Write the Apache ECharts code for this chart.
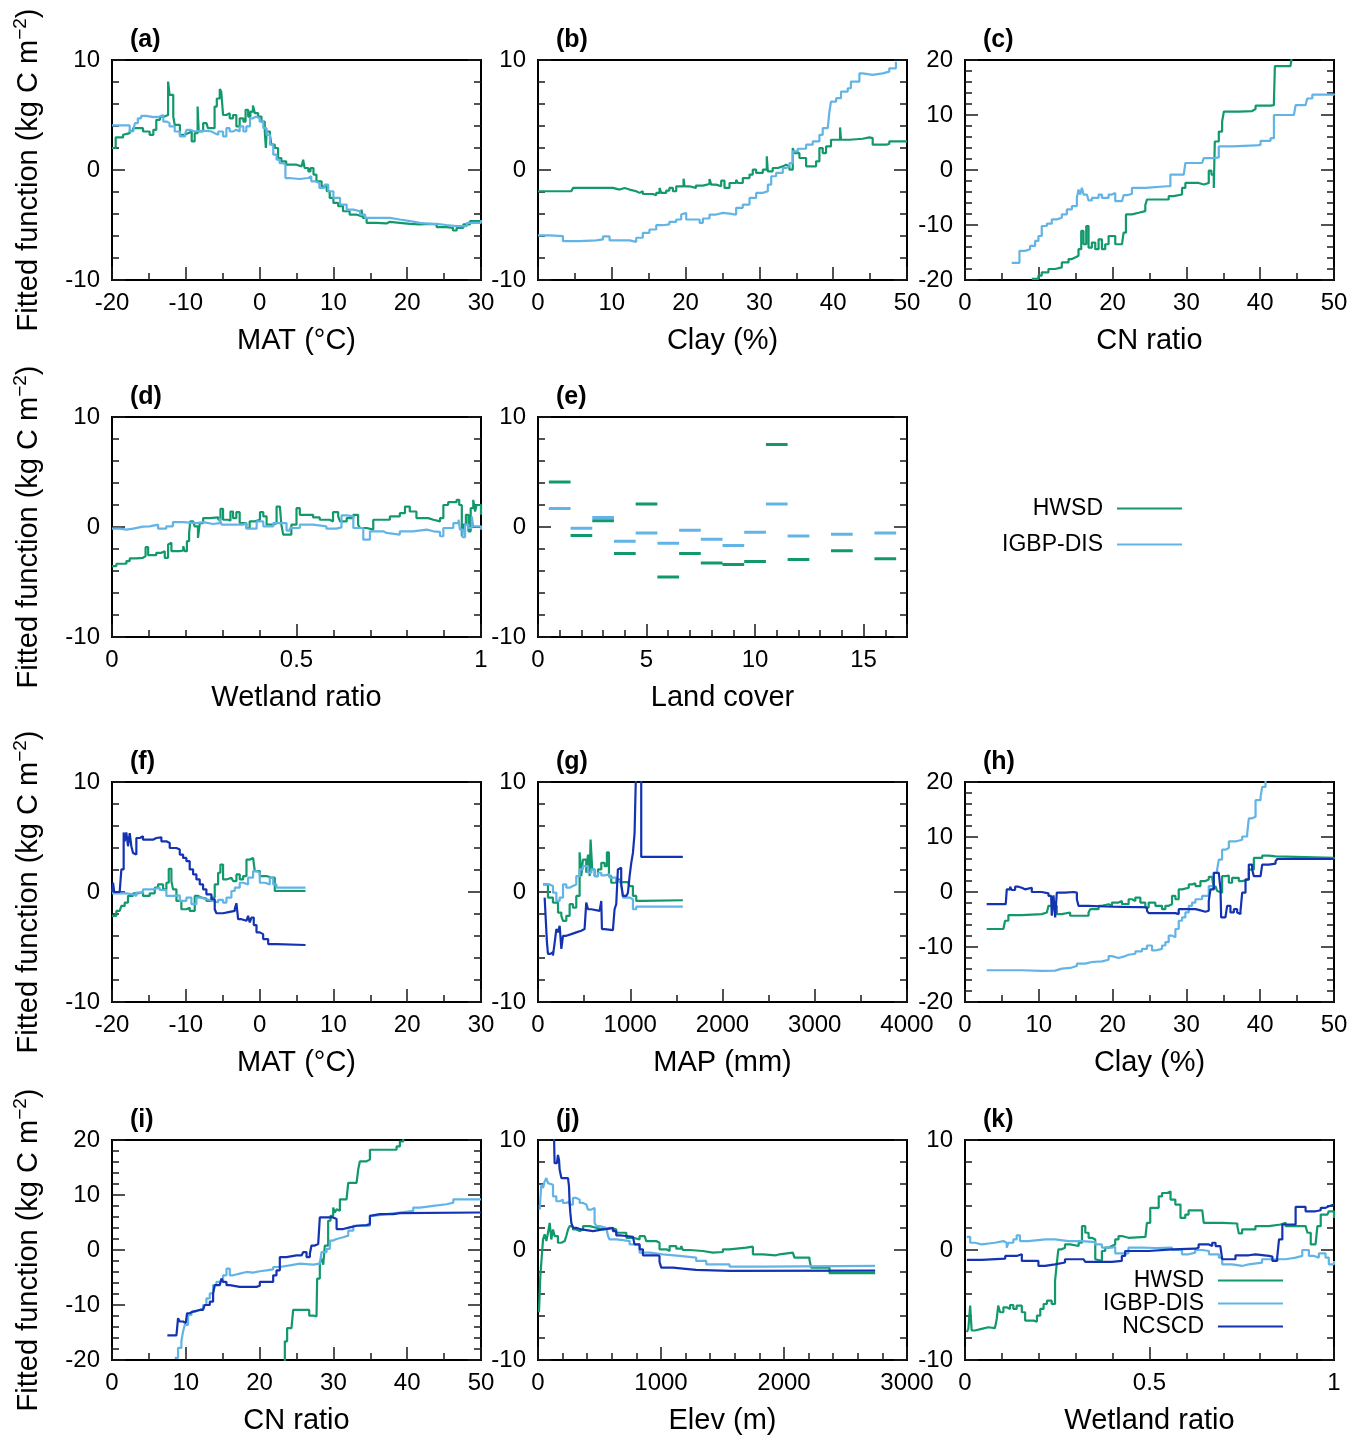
<!DOCTYPE html>
<html>
<head>
<meta charset="utf-8">
<script src="https://cdn.jsdelivr.net/npm/echarts@6/dist/echarts.min.js"></script>
<style>
  html, body { margin: 0; background: #fff; }
  #chart { width: 1369px; height: 1439px; }
</style>
</head>
<body>
<div id="chart"></div>
<script>
// (a) MAT, two soil maps
const aHwsd = [[-20,2.0],[-19.5,2.0],[-19.5,2.96],[-18.5,3.2],[-18.3,3.35],[-17.6,3.56],[-17.15,3.8],[-16.5,3.8],[-15.8,3.5],[-14.9,3.2],[-14.4,3.65],[-14.0,4.56],[-13.5,4.86],[-12.9,5.0],[-12.4,8.04],[-12.2,6.83],[-11.7,4.86],[-11.5,4.1],[-10.8,3.2],[-10.1,3.35],[-9.7,3.5],[-9.2,2.6],[-8.8,3.35],[-8.4,5.77],[-8.25,3.5],[-7.65,4.26],[-7.2,4.4],[-7.0,3.8],[-6.5,3.8],[-6.1,5.77],[-5.8,6.5],[-5.4,7.37],[-5.2,7.13],[-4.95,5.0],[-4.5,5.17],[-4.05,4.7],[-3.6,5.0],[-3.15,3.96],[-2.7,4.7],[-2.2,4.4],[-1.9,5.47],[-1.55,4.86],[-1.25,5.3],[-0.9,5.86],[-0.65,5.17],[-0.2,4.86],[0.25,4.4],[0.7,3.5],[0.85,2.0],[0.95,3.5],[1.4,3.2],[1.6,2.3],[2.06,2.0],[2.5,1.09],[2.95,0.79],[3.6,0.48],[4.3,0.48],[5.0,0.33],[5.7,0.33],[5.9,0.94],[6.1,0.18],[6.6,-0.12],[6.9,0.18],[7.3,-0.42],[7.7,-1.03],[8.4,-1.48],[9.1,-1.93],[9.5,-2.54],[10.0,-2.99],[10.65,-3.29],[11.3,-3.75],[12.2,-4.05],[13.1,-4.2],[13.8,-3.6],[14.0,-4.35],[14.5,-4.8],[15.85,-4.86],[17.2,-4.71],[17.65,-4.8],[19.0,-4.9],[20.4,-4.95],[21.7,-4.9],[23.1,-4.95],[24.0,-5.2],[25.3,-5.26],[26.2,-5.5],[26.7,-5.26],[27.6,-4.95],[28.5,-4.65],[30,-4.56]]
const aIgbp = [[-20,4.05],[-17.6,4.05],[-17.6,3.5],[-17.15,3.65],[-16.9,4.26],[-16.5,4.7],[-16.05,4.92],[-15.35,4.8],[-14.4,4.86],[-13.5,5.0],[-13.05,4.4],[-12.6,4.26],[-12.2,3.96],[-11.5,3.5],[-10.8,3.05],[-10.1,3.26],[-9.9,3.65],[-9.4,3.5],[-8.8,3.56],[-8.1,3.56],[-7.2,3.5],[-6.5,3.35],[-6.1,3.2],[-5.6,3.5],[-4.95,3.05],[-4.5,3.8],[-4.05,3.5],[-3.6,3.65],[-3.15,3.5],[-2.7,3.96],[-2.2,3.5],[-1.8,3.96],[-1.3,4.7],[-0.9,4.86],[-0.45,4.7],[0,4.4],[0.5,3.8],[0.95,3.2],[1.4,2.3],[1.85,1.39],[2.3,0.94],[2.7,0.63],[3.2,0.48],[3.5,-0.73],[4.0,-0.82],[5.4,-0.73],[6.6,-0.57],[7.0,-1.03],[7.5,-1.18],[8.1,-1.63],[8.8,-1.33],[9.3,-1.93],[10.0,-2.54],[10.9,-3.14],[11.8,-3.6],[12.7,-3.75],[13.6,-4.05],[14.3,-4.35],[15.85,-4.35],[17.65,-4.5],[19.0,-4.65],[20.4,-4.8],[21.7,-4.9],[23.1,-4.9],[24.0,-5.0],[25.3,-5.1],[26.7,-5.1],[28.1,-4.8],[30,-4.56]]

// (b) clay
const bHwsd = [[0,-1.93],[4.51,-1.93],[4.74,-1.63],[9.7,-1.63],[10.15,-1.78],[11.06,-1.63],[11.73,-1.48],[11.96,-1.78],[12.41,-1.93],[13.31,-2.08],[13.76,-1.93],[14.2,-2.18],[15.57,-2.3],[16.02,-2.08],[16.47,-1.63],[16.7,-2.08],[17.37,-1.87],[17.8,-1.63],[18.28,-1.93],[18.73,-1.48],[19.4,-1.48],[19.72,-0.79],[19.86,-1.48],[20.5,-1.63],[21.4,-1.42],[22.34,-1.27],[23.24,-0.82],[23.47,-1.33],[24.14,-1.48],[24.82,-0.97],[25.27,-1.63],[25.95,-1.18],[26.85,-0.88],[27.08,-1.18],[27.75,-0.73],[28.66,-0.42],[29.1,0.03],[29.56,-0.27],[30.46,0.03],[31.0,1.24],[31.14,-0.12],[31.8,0.18],[32.5,0.33],[33.17,0.48],[33.62,0.33],[34.07,0.03],[34.52,1.99],[34.75,1.54],[35.42,1.09],[36.33,0.33],[37.68,0.79],[38.13,1.99],[38.58,1.54],[39.03,2.14],[39.7,2.75],[40.6,2.75],[40.93,3.87],[41.06,2.75],[42.2,2.84],[44.0,2.96],[44.9,2.9],[45.35,2.3],[47.16,2.36],[47.6,2.6],[50,2.6]]
const bIgbp = [[0,-5.95],[1.58,-6.01],[3.38,-6.47],[5.64,-6.4],[7.9,-6.31],[8.8,-6.04],[9.7,-6.4],[11.5,-6.4],[12.41,-6.53],[13.31,-6.16],[14.2,-5.71],[15.1,-5.41],[16.02,-5.02],[16.9,-4.95],[17.8,-4.71],[18.73,-4.5],[19.4,-4.05],[19.63,-3.9],[20.08,-4.5],[20.98,-4.5],[21.9,-4.8],[22.34,-4.41],[23.24,-4.05],[24.14,-3.9],[25.05,-3.96],[25.95,-4.05],[26.85,-3.44],[27.75,-3.14],[28.66,-2.54],[29.56,-2.08],[30.46,-1.93],[31.14,-1.33],[31.6,-0.57],[32.27,-0.27],[33.17,0.18],[33.62,0.33],[34.07,0.63],[34.52,1.69],[35.2,1.93],[36.33,2.3],[37.23,2.6],[38.13,3.2],[38.58,3.8],[39.26,3.96],[39.49,5.32],[39.7,6.22],[40.4,6.53],[41.06,7.13],[41.97,7.43],[42.4,8.04],[43.55,8.79],[44.0,8.64],[45.35,8.79],[46.7,8.94],[47.6,9.24],[48.5,9.85]]

// (c) CN ratio
const cHwsd = [[9.05,-19.8],[9.95,-19.2],[10.4,-18.6],[11.31,-18.0],[12.22,-17.7],[13.12,-16.8],[14.03,-16.2],[14.48,-15.9],[14.93,-15.6],[15.38,-14.4],[15.75,-11.08],[16.06,-13.5],[16.43,-10.18],[16.74,-14.1],[17.19,-13.2],[17.65,-14.4],[18.1,-12.6],[18.55,-14.4],[19.0,-13.5],[19.46,-12.0],[19.9,-12.0],[20.36,-13.5],[21.27,-13.5],[21.49,-11.4],[21.81,-8.07],[22.62,-7.77],[23.53,-7.47],[24.43,-6.39],[24.66,-5.36],[27.6,-4.76],[28.28,-4.46],[29.41,-3.25],[29.86,-2.35],[31.67,-2.65],[32.35,-2.35],[33.03,-0.12],[33.39,-0.84],[33.71,-3.25],[33.85,5.18],[34.39,6.99],[34.84,8.8],[35.07,10.6],[37.1,10.72],[38.9,11.08],[39.37,11.69],[41.4,11.8],[41.86,12.4],[41.99,18.9],[44.1,18.9],[44.34,21]]
const cIgbp = [[6.33,-16.87],[7.38,-16.87],[7.38,-14.7],[8.14,-14.4],[8.82,-13.8],[9.5,-12.9],[9.95,-12.0],[10.4,-10.18],[11.09,-9.76],[11.76,-8.98],[12.44,-8.67],[13.12,-8.07],[13.8,-7.17],[14.48,-6.57],[15.16,-5.06],[15.38,-3.55],[15.61,-4.46],[15.84,-3.25],[16.06,-4.46],[16.52,-4.76],[16.74,-5.54],[17.19,-5.06],[18.1,-4.46],[18.55,-5.06],[19.46,-4.46],[19.9,-4.16],[20.36,-5.66],[21.27,-5.96],[21.49,-4.58],[21.95,-4.34],[22.62,-3.25],[24.43,-2.95],[27.38,-2.95],[27.83,-0.84],[29.64,-0.54],[29.86,1.27],[32.13,1.57],[32.35,2.17],[33.71,2.29],[34.39,4.28],[36.2,4.46],[39.37,4.58],[40.05,5.3],[41.4,5.78],[41.86,10.0],[44.57,10.0],[44.8,11.8],[46.15,11.8],[46.38,13.0],[47.06,13.7],[50,13.9]]

// (d) wetland ratio
const dHwsd = [[0,-3.55],[0.012,-3.34],[0.039,-3.1],[0.048,-2.86],[0.066,-2.8],[0.084,-2.65],[0.091,-1.83],[0.098,-2.56],[0.12,-2.35],[0.134,-2.2],[0.143,-2.8],[0.152,-1.59],[0.156,-1.44],[0.161,-2.2],[0.184,-2.14],[0.193,-1.74],[0.197,-2.2],[0.203,-1.29],[0.209,-0.54],[0.212,0.51],[0.22,0.36],[0.224,0.06],[0.233,-0.99],[0.238,0.36],[0.247,0.81],[0.265,0.87],[0.288,0.66],[0.294,1.65],[0.301,0.66],[0.315,0.57],[0.321,1.41],[0.328,0.81],[0.337,1.35],[0.346,0.36],[0.364,-0.09],[0.373,0.51],[0.387,0.66],[0.401,1.35],[0.41,0.96],[0.419,0.21],[0.437,0.36],[0.446,1.86],[0.455,1.71],[0.459,0.21],[0.464,-0.69],[0.477,-0.69],[0.486,0.21],[0.5,1.71],[0.509,1.11],[0.545,0.87],[0.563,0.66],[0.59,0.51],[0.599,1.35],[0.613,0.96],[0.618,0.51],[0.636,0.81],[0.654,1.11],[0.667,0.21],[0.672,-0.09],[0.69,-0.24],[0.708,0.66],[0.726,0.66],[0.753,0.96],[0.78,1.26],[0.794,1.86],[0.807,1.41],[0.825,0.81],[0.857,0.66],[0.871,0.51],[0.889,0.81],[0.898,2.0],[0.911,2.26],[0.934,2.47],[0.941,2.0],[0.948,-0.84],[0.952,0.21],[0.959,1.11],[0.966,-0.39],[0.972,1.71],[0.979,2.47],[0.984,1.41],[0.988,2.0],[1,1.11]]
const dIgbp = [[0,-0.15],[0.021,-0.24],[0.039,-0.15],[0.057,0.03],[0.084,0.06],[0.102,0.21],[0.125,-0.15],[0.147,0.06],[0.165,0.45],[0.193,0.36],[0.229,0.45],[0.247,0.27],[0.274,0.36],[0.292,0.81],[0.297,0.21],[0.328,0.21],[0.355,0.36],[0.364,-0.15],[0.392,0.51],[0.41,0.06],[0.437,0.36],[0.455,0.36],[0.473,-0.33],[0.482,-0.09],[0.509,0.21],[0.545,0.06],[0.581,-0.15],[0.608,-0.03],[0.622,1.05],[0.636,0.96],[0.654,-0.09],[0.681,-1.14],[0.699,-0.39],[0.735,-0.54],[0.744,-0.69],[0.78,-0.39],[0.816,-0.24],[0.853,-0.39],[0.871,-0.45],[0.889,-0.84],[0.898,-0.09],[0.925,0.36],[0.939,0.66],[0.943,-0.24],[0.95,-0.93],[0.957,0.21],[0.966,-0.09],[0.975,0.96],[0.979,0.06],[1,-0.24]]

// (e) land cover classes
const lcClass = [1, 2, 3, 4, 5, 6, 7, 8, 9, 10, 11, 12, 14, 16]
const lcHwsd = [4.1, -0.78, 0.57, -2.4, 2.1, -4.55, -2.4, -3.28, -3.4, -3.13, 7.5, -2.95, -2.17, -2.89]
const lcIgbp = [1.69, -0.12, 0.87, -1.3, -0.54, -1.48, -0.3, -1.11, -1.69, -0.48, 2.1, -0.81, -0.66, -0.54]

// (f) MAT, three soil maps
const fHwsd = [[-20,-2.17],[-19.41,-1.72],[-18.96,-1.57],[-18.73,-1.27],[-18.28,-0.96],[-17.83,-0.36],[-17.15,-0.12],[-16.47,0],[-15.8,-0.36],[-14.89,-0.12],[-14.21,0.39],[-13.76,0.69],[-13.08,0.24],[-12.63,0.84],[-12.31,2.11],[-11.95,0.99],[-11.73,0.24],[-11.27,-0.81],[-10.6,-1.57],[-9.92,-1.42],[-9.47,-1.72],[-8.79,-0.36],[-8.34,-0.51],[-7.88,-0.6],[-7.21,-0.81],[-6.53,-0.51],[-6.08,0.69],[-5.62,1.75],[-5.31,2.5],[-4.95,1.14],[-4.49,1.3],[-3.82,1.3],[-3.59,0.99],[-3.14,1.6],[-2.69,1.14],[-2.23,1.45],[-1.78,2.95],[-1.33,3.1],[-0.88,3.1],[-0.65,1.9],[0.03,1.45],[0.93,1.3],[1.61,1.3],[2.06,0.09],[6.22,0.09]]
const fIgbp = [[-20,-0.12],[-18.06,-0.21],[-17.15,-0.36],[-16.7,-0.06],[-15.8,0.24],[-14.44,0.39],[-13.54,0.18],[-12.63,-0.36],[-11.73,-0.3],[-10.82,-0.81],[-9.92,-0.51],[-9.24,-1.11],[-8.56,-0.51],[-7.88,-0.66],[-7.21,-0.81],[-6.3,-0.96],[-5.62,-0.72],[-4.95,-0.96],[-4.49,-0.51],[-3.82,0.09],[-3.36,0.39],[-2.69,0.84],[-2.23,0.69],[-1.56,1.3],[-0.88,1.9],[-0.42,1.75],[0.03,0.84],[0.71,0.69],[1.38,1.3],[1.84,0.69],[2.29,0.39],[6.22,0.39]]
const fNcscd = [[-20,0],[-19.86,0.84],[-19.7,0],[-18.96,0.09],[-18.73,2.05],[-18.42,5.42],[-18.28,4.61],[-18.06,5.42],[-17.83,4.16],[-17.6,5.36],[-17.38,4.16],[-17.15,3.55],[-16.93,3.4],[-16.7,4.91],[-16.25,5.06],[-15.8,4.76],[-14.89,4.76],[-14.44,4.91],[-13.99,4.97],[-13.31,4.61],[-12.63,4.46],[-12.18,4.0],[-11.27,3.86],[-10.82,3.4],[-10.37,3.1],[-9.92,2.8],[-9.47,2.05],[-9.01,1.6],[-8.56,1.14],[-8.11,0.69],[-7.66,0.24],[-7.21,-0.21],[-6.53,-0.66],[-6.08,-1.57],[-5.85,-1.93],[-4.95,-1.81],[-4.04,-1.72],[-3.36,-1.51],[-3.14,-1.02],[-2.91,-2.47],[-2.46,-2.62],[-1.78,-2.62],[-1.56,-2.17],[-1.33,-2.77],[-1.1,-2.32],[-0.79,-3.01],[-0.42,-3.67],[0.03,-3.83],[0.48,-4.28],[1.16,-4.73],[2.29,-4.82],[6.22,-4.82]]

// (g) MAP
const gHwsd = [[54,0.69],[108,-0.51],[162,-0.96],[217,-1.87],[253,-2.17],[271,-2.62],[307,-2.17],[343,-1.11],[379,-1.42],[415,-0.36],[451,3.61],[469,1.45],[487,2.95],[523,1.75],[542,3.4],[560,1.45],[570,4.76],[588,2.05],[614,1.45],[650,2.05],[686,2.65],[722,2.35],[747,3.61],[769,1.45],[794,0.84],[848,1.14],[884,0.9],[975,0.9],[993,0.54],[1029,-0.36],[1065,-0.81],[1137,-0.75],[1570,-0.75]]
const gIgbp = [[54,0.69],[126,0.54],[162,-0.06],[199,-0.81],[235,-0.51],[271,0.69],[307,0.39],[343,0.54],[379,0.69],[415,1.45],[451,2.05],[487,2.35],[542,1.75],[578,2.05],[614,1.45],[650,1.75],[686,1.51],[722,1.6],[776,1.3],[848,0.99],[902,0.69],[921,-0.51],[993,-0.66],[1029,-1.57],[1065,-1.33],[1570,-1.33]]
const gNcscd = [[72,-0.51],[90,-0.51],[97,-4.58],[108,-5.63],[134,-5.48],[162,-5.78],[181,-4.58],[199,-3.37],[217,-3.67],[235,-3.07],[253,-5.18],[271,-3.98],[307,-3.83],[361,-3.67],[415,-3.52],[469,-3.37],[505,-3.22],[523,-0.96],[542,-1.57],[578,-1.72],[668,-1.81],[686,-0.81],[693,-3.37],[722,-3.46],[812,-3.31],[830,-1.57],[848,-1.11],[866,2.05],[884,2.2],[902,0.69],[921,-0.36],[957,-0.51],[975,-0.06],[993,1.45],[1011,2.65],[1029,3.55],[1047,5.36],[1065,12],[1119,3.19],[1570,3.19]]

// (h) clay
const hHwsd = [[2.94,-6.73],[5.2,-6.73],[5.43,-5.23],[5.88,-4.2],[7.69,-4.02],[10.41,-3.72],[11.09,-3.6],[11.31,-2.52],[12.44,-4.02],[13.12,-3.72],[14.25,-4.32],[16.74,-3.72],[16.97,-3.12],[18.1,-2.52],[18.55,-2.22],[19.46,-2.52],[19.91,-1.92],[20.81,-1.62],[21.27,-2.22],[22.17,-1.32],[22.62,-1.62],[23.08,-1.02],[23.76,-1.92],[24.43,-2.82],[24.89,-1.92],[25.79,-2.52],[26.7,-3.12],[27.15,-2.52],[27.6,-2.22],[28.05,-0.72],[28.51,-1.32],[28.96,0.48],[29.41,0.78],[30.32,1.38],[30.77,1.56],[31.22,1.08],[31.9,1.98],[32.58,2.28],[33.03,2.76],[33.48,2.88],[33.71,0.48],[33.94,1.08],[34.16,0.18],[34.39,-0.12],[34.84,2.88],[35.29,3.0],[35.75,1.68],[36.2,2.58],[37.1,1.98],[37.56,2.28],[38.46,4.08],[39.14,6.19],[40.27,6.61],[41.18,6.49],[42.08,6.19],[50,6.0]]
const hIgbp = [[2.94,-14.23],[7.69,-14.35],[10.41,-14.29],[12.22,-13.93],[13.12,-13.81],[14.25,-13.45],[15.16,-13.03],[16.29,-12.73],[17.19,-12.61],[18.55,-12.31],[19.46,-11.65],[19.91,-12.01],[20.81,-11.65],[21.72,-11.41],[22.17,-11.23],[23.08,-10.81],[23.98,-10.33],[24.66,-9.73],[25.34,-10.63],[25.79,-10.33],[26.7,-9.73],[27.15,-9.13],[27.6,-7.93],[28.05,-8.23],[28.51,-6.73],[28.96,-5.23],[29.41,-4.62],[29.86,-3.72],[30.32,-2.52],[30.77,-1.92],[31.22,-1.32],[32.13,-0.72],[33.03,1.08],[33.71,3.48],[34.16,4.08],[34.39,5.89],[34.84,7.69],[35.29,7.99],[35.75,9.19],[36.65,9.49],[37.56,10.09],[38.24,10.69],[38.46,13.39],[38.91,13.69],[39.37,16.7],[40.05,17.3],[40.27,19.1],[40.72,21]]
const hNcscd = [[2.94,-2.22],[5.52,-2.22],[5.66,0.48],[6.11,0.96],[6.33,0.36],[6.79,0.96],[7.24,0.78],[7.69,0.48],[8.14,0.78],[9.05,0],[10.41,-0.24],[11.31,-0.72],[11.67,-0.84],[11.76,-4.32],[11.99,-0.6],[12.22,-4.62],[12.44,-0.12],[13.57,0],[14.71,-0.12],[15.16,-1.32],[15.38,-2.52],[16.74,-2.64],[19.0,-2.7],[21.27,-2.76],[23.98,-2.82],[24.66,-3.42],[24.89,-3.84],[27.6,-3.84],[28.51,-4.02],[28.96,-3.12],[30.32,-3.12],[31.22,-3.24],[31.67,-3.6],[32.58,-3.42],[33.03,-1.62],[33.26,0.48],[33.71,3.48],[34.39,3.48],[34.62,0.48],[34.71,-4.62],[35.29,-4.32],[35.52,-2.52],[35.97,-3.72],[36.43,-3.12],[36.88,-3.72],[37.1,-4.02],[37.33,-3.42],[37.56,-0.12],[38.01,2.28],[38.46,4.98],[38.91,4.08],[39.14,2.88],[40.05,3.0],[40.27,4.98],[41.18,5.17],[42.08,5.59],[42.31,6.0],[50,6.0]]

// (i) CN ratio
const iHwsd = [[23.1,-21],[23.42,-16.6],[23.73,-14.2],[24.32,-14.2],[24.55,-10.9],[26.36,-10.9],[26.72,-11.92],[27.26,-12.1],[27.71,-12.4],[27.8,-5.2],[28.16,-2.19],[28.39,-1.59],[28.62,-2.67],[28.84,0.81],[29.29,5.32],[29.61,6.22],[29.97,7.72],[30.2,6.82],[30.43,7.42],[30.65,7.12],[30.88,9.22],[31.78,9.22],[32.01,12.22],[33.14,12.52],[33.36,14.62],[33.59,16.13],[34.49,16.43],[34.95,18.23],[38.11,18.23],[38.56,18.83],[39.01,19.73],[39.47,21]]
const iIgbp = [[8.5,-19.6],[8.95,-17.8],[9.4,-16.6],[9.63,-14.8],[9.86,-13.6],[10.31,-11.8],[10.76,-11.2],[11.21,-10.9],[11.89,-10.6],[12.34,-10.0],[12.79,-8.8],[13.25,-7.9],[13.7,-6.4],[14.15,-5.8],[14.6,-5.5],[15.05,-4.6],[15.51,-3.39],[15.96,-4.6],[16.41,-4.29],[17.31,-3.99],[18.22,-4.11],[19.12,-3.87],[20.03,-3.7],[20.93,-3.51],[21.84,-3.09],[22.74,-2.79],[24.1,-2.49],[25.45,-2.67],[27.26,-2.49],[28.16,-2.31],[28.39,-0.39],[29.07,0.21],[29.52,1.71],[29.97,2.01],[30.43,2.31],[31.33,2.61],[32.01,3.51],[32.69,4.41],[34.04,4.41],[34.95,6.22],[35.4,6.52],[37.21,6.82],[39.01,7.12],[40.82,7.72],[41.73,8.02],[43.53,8.32],[45.34,8.62],[46.25,9.22],[50,9.22]]
const iNcscd = [[7.5,-15.53],[8.73,-15.53],[8.95,-12.4],[9.18,-13.0],[9.63,-13.3],[9.99,-13.6],[10.17,-11.5],[10.53,-11.2],[10.99,-10.9],[11.89,-10.9],[12.34,-10.6],[12.57,-10.0],[13.25,-9.4],[13.7,-7.9],[13.92,-6.4],[14.6,-6.1],[14.83,-5.2],[15.05,-5.8],[15.51,-6.4],[15.96,-6.7],[17.31,-6.7],[19.58,-6.5],[20.03,-5.8],[21.38,-5.8],[21.84,-4.6],[22.29,-3.7],[22.74,-1.29],[23.64,-0.99],[25.0,-0.99],[25.68,-0.87],[25.9,-0.39],[26.36,-1.29],[26.81,-0.69],[27.03,0.81],[27.49,1.11],[27.94,1.41],[28.16,5.92],[29.52,5.92],[29.97,5.62],[30.43,3.81],[31.33,4.11],[32.23,4.41],[33.14,4.53],[34.49,4.71],[34.95,6.22],[35.17,6.52],[36.3,6.52],[38.11,6.7],[39.01,6.82],[50,6.82]]

// (j) elevation
const jHwsd = [[8,-5.66],[19,-2.35],[27,-1.14],[41,0.96],[54,1.42],[68,0.81],[81,1.57],[95,2.47],[108,0.96],[122,1.87],[135,1.27],[162,0.66],[190,0.81],[217,0.66],[230,1.27],[244,1.87],[257,2.17],[284,1.87],[311,1.72],[339,1.87],[366,2.17],[420,2.02],[474,1.87],[528,2.02],[582,1.87],[636,1.57],[718,1.11],[772,0.96],[826,1.27],[867,1.11],[880,0.81],[961,0.66],[988,0.06],[1043,-0.09],[1070,0.36],[1124,0.12],[1164,0.36],[1178,0],[1232,-0.09],[1340,-0.24],[1422,-0.18],[1503,0.06],[1557,0.21],[1693,0.3],[1747,-0.39],[1828,-0.48],[1936,-0.39],[1963,-0.24],[2072,-0.24],[2085,-0.69],[2207,-0.9],[2221,-1.6],[2342,-1.6],[2370,-2.11],[2741,-2.11]]
const jIgbp = [[14,3.67],[19,4.58],[27,5.93],[41,5.63],[54,6.23],[68,6.54],[81,6.08],[95,5.93],[122,4.88],[149,4.43],[176,4.58],[203,4.28],[230,4.43],[257,4.13],[284,4.73],[311,4.58],[339,4.28],[366,4.13],[393,3.98],[406,3.67],[433,3.83],[460,2.47],[474,2.17],[501,2.02],[555,1.87],[569,1.27],[582,0.96],[636,0.9],[691,0.81],[745,0.51],[826,-0.24],[907,-0.39],[1016,-0.54],[1151,-0.69],[1286,-0.99],[1368,-1.3],[1449,-1.3],[1557,-1.51],[1828,-1.45],[2741,-1.45]]
const jNcscd = [[127,12],[135,7.89],[154,8.04],[162,8.64],[171,8.19],[176,7.29],[190,6.54],[244,6.39],[252,5.78],[257,4.28],[263,3.37],[271,2.47],[284,2.02],[311,1.87],[352,1.81],[393,1.72],[447,1.87],[528,1.93],[582,2.02],[609,1.72],[636,1.33],[663,1.27],[718,1.2],[772,1.11],[785,0.51],[826,0.06],[853,-0.48],[961,-0.54],[988,-1.08],[1002,-1.6],[1097,-1.69],[1178,-1.81],[1286,-1.9],[1557,-1.87],[2741,-1.81]]

// (k) wetland ratio
const kHwsd = [[0.005,-7.47],[0.009,-7.17],[0.014,-5.06],[0.018,-7.32],[0.027,-7.17],[0.045,-7.02],[0.063,-7.11],[0.081,-7.02],[0.086,-6.27],[0.09,-5.06],[0.095,-5.66],[0.104,-5.21],[0.113,-5.36],[0.122,-5.0],[0.131,-5.36],[0.14,-5.06],[0.154,-5.66],[0.163,-6.42],[0.186,-6.51],[0.195,-5.96],[0.204,-5.36],[0.213,-4.91],[0.222,-4.61],[0.235,-4.91],[0.244,-2.8],[0.249,-1.14],[0.253,0.06],[0.262,0.21],[0.271,0.51],[0.285,0.36],[0.308,0.66],[0.317,2.17],[0.326,1.57],[0.335,1.11],[0.344,0.96],[0.353,-0.84],[0.357,-0.99],[0.371,-0.09],[0.38,0.21],[0.389,0.36],[0.398,0.51],[0.407,0.96],[0.416,1.27],[0.425,1.11],[0.443,1.2],[0.489,1.27],[0.493,2.47],[0.502,3.83],[0.516,3.83],[0.525,4.88],[0.534,5.18],[0.548,5.33],[0.557,4.58],[0.57,4.13],[0.584,2.92],[0.597,3.22],[0.606,3.61],[0.643,3.43],[0.647,2.47],[0.697,2.41],[0.738,2.17],[0.742,1.51],[0.751,1.87],[0.787,2.17],[0.824,2.32],[0.855,2.47],[0.869,2.17],[0.923,2.11],[0.928,1.57],[0.937,0.51],[0.95,0.66],[0.955,2.17],[0.964,3.22],[0.982,3.13],[0.986,3.52],[1,2.92]]
const kIgbp = [[0.005,1.2],[0.014,0.66],[0.027,0.51],[0.045,0.66],[0.081,0.81],[0.104,0.66],[0.113,0.21],[0.118,0.66],[0.131,0.96],[0.14,1.33],[0.149,0.81],[0.172,0.96],[0.217,0.96],[0.244,0.81],[0.281,0.81],[0.317,0.72],[0.353,0.51],[0.371,0.21],[0.398,0.3],[0.407,-0.3],[0.443,0.21],[0.48,0.18],[0.516,0.21],[0.561,0],[0.588,-0.39],[0.606,-0.24],[0.624,0],[0.643,-0.09],[0.661,-0.39],[0.688,-0.69],[0.697,-1.3],[0.724,-1.45],[0.751,-1.3],[0.769,-1.14],[0.805,-0.84],[0.842,-0.84],[0.869,-0.69],[0.896,-0.54],[0.914,0],[0.932,-0.54],[0.946,-0.69],[0.959,-0.3],[0.977,-0.69],[0.986,-1.3],[1,-0.99]]
const kNcscd = [[0.005,-0.9],[0.045,-0.78],[0.109,-0.54],[0.14,-0.39],[0.154,-0.99],[0.199,-1.45],[0.217,-1.3],[0.244,-1.14],[0.271,-0.84],[0.321,-0.69],[0.326,-1.08],[0.398,-0.99],[0.425,-0.54],[0.434,-0.09],[0.498,0.06],[0.561,0.12],[0.624,0.21],[0.633,0.51],[0.661,0.36],[0.67,0.66],[0.679,0.36],[0.692,0.3],[0.697,-0.84],[0.733,-0.48],[0.769,-0.39],[0.787,-0.54],[0.824,-0.6],[0.833,-0.99],[0.846,-0.69],[0.851,0.96],[0.86,2.32],[0.878,2.32],[0.896,3.92],[0.923,3.52],[0.95,3.61],[0.964,3.83],[0.977,3.98],[0.986,4.13],[1,4.13]]

// axis ranges: [min, max, label step, minor tick step]
const matAxis = [-20, 30, 10, 5]
const pctAxis = [0, 50, 10, 5]
const ratioAxis = [0, 1, 0.5, 0.1]
const lcAxis = [0, 17, 5, 1]
const mapAxis = [0, 4000, 1000, 500]
const elevAxis = [0, 3000, 1000, 200]
const fit10 = [-10, 10, 10, 2]
const fit20 = [-20, 20, 10, 2]

const COLORS = { 'HWSD': '#12996b', 'IGBP-DIS': '#63b4e6', 'NCSCD': '#1433b2' }
const FONT = '"Liberation Sans", Arial, Helvetica, sans-serif'

// land cover: one short flat bar per class, broken with empty points
const lcSegments = vals => {
  const out = []
  lcClass.forEach((c, i) => {
    out.push([c - 0.5, vals[i]], [c + 0.5, vals[i]], [c + 0.5, '-'])
  })
  return out
}

const panels = [
  { tag: '(a)', col: 0, row: 0, xName: 'MAT (°C)', x: matAxis, y: fit10, lines: [['HWSD', aHwsd], ['IGBP-DIS', aIgbp]] },
  { tag: '(b)', col: 1, row: 0, xName: 'Clay (%)', x: pctAxis, y: fit10, lines: [['HWSD', bHwsd], ['IGBP-DIS', bIgbp]] },
  { tag: '(c)', col: 2, row: 0, xName: 'CN ratio', x: pctAxis, y: fit20, lines: [['HWSD', cHwsd], ['IGBP-DIS', cIgbp]] },
  { tag: '(d)', col: 0, row: 1, xName: 'Wetland ratio', x: ratioAxis, y: fit10, lines: [['HWSD', dHwsd], ['IGBP-DIS', dIgbp]] },
  { tag: '(e)', col: 1, row: 1, xName: 'Land cover', x: lcAxis, y: fit10, bars: true,
    lines: [['HWSD', lcSegments(lcHwsd)], ['IGBP-DIS', lcSegments(lcIgbp)]] },
  { tag: '(f)', col: 0, row: 2, xName: 'MAT (°C)', x: matAxis, y: fit10, lines: [['HWSD', fHwsd], ['IGBP-DIS', fIgbp], ['NCSCD', fNcscd]] },
  { tag: '(g)', col: 1, row: 2, xName: 'MAP (mm)', x: mapAxis, y: fit10, lines: [['HWSD', gHwsd], ['IGBP-DIS', gIgbp], ['NCSCD', gNcscd]] },
  { tag: '(h)', col: 2, row: 2, xName: 'Clay (%)', x: pctAxis, y: fit20, lines: [['HWSD', hHwsd], ['IGBP-DIS', hIgbp], ['NCSCD', hNcscd]] },
  { tag: '(i)', col: 0, row: 3, xName: 'CN ratio', x: pctAxis, y: fit20, lines: [['HWSD', iHwsd], ['IGBP-DIS', iIgbp], ['NCSCD', iNcscd]] },
  { tag: '(j)', col: 1, row: 3, xName: 'Elev (m)', x: elevAxis, y: fit10, lines: [['HWSD', jHwsd], ['IGBP-DIS', jIgbp], ['NCSCD', jNcscd]] },
  { tag: '(k)', col: 2, row: 3, xName: 'Wetland ratio', x: ratioAxis, y: fit10, lines: [['HWSD', kHwsd], ['IGBP-DIS', kIgbp], ['NCSCD', kNcscd]] }
]

const colLeft = [112, 538, 965]
const rowTop = [60, 417, 782, 1140]
const W = 369
const H = 220

const fmt = v => String(Math.round(v * 1000) / 1000)
const yTitle = '{t|Fitted function (kg C m}{s|−2}{t|)}'

const makeAxis = (gridIndex, range, major, position, showLabel, name) => ({
  type: 'value',
  gridIndex,
  position,
  min: range[0],
  max: range[1],
  interval: major ? range[2] : range[3],
  axisLine: { show: false, onZero: false },
  splitLine: { show: false },
  axisTick: { show: true, inside: true, length: major ? 13 : 7, lineStyle: { color: '#1a1a1a', width: 1.5 } },
  axisLabel: {
    show: showLabel,
    margin: position === 'bottom' ? 11 : 12,
    fontSize: 24,
    fontFamily: FONT,
    color: '#000',
    formatter: v => (Math.abs(v / range[2] - Math.round(v / range[2])) < 1e-6 ? fmt(v) : '')
  },
  name: name || '',
  nameLocation: 'middle',
  nameGap: position === 'bottom' ? 46 : 65,
  nameRotate: position === 'bottom' ? 0 : 90,
  nameTextStyle: {
    fontSize: 29,
    fontFamily: FONT,
    color: '#000',
    rich: {
      t: { fontSize: 29, fontFamily: FONT, color: '#000', lineHeight: 36 },
      s: { fontSize: 19, fontFamily: FONT, color: '#000', lineHeight: 20, verticalAlign: 'top' }
    }
  }
})

const grid = []
const xAxis = []
const yAxis = []
const series = []
const title = []

panels.forEach((p, gi) => {
  const left = colLeft[p.col]
  const top = rowTop[p.row]
  grid.push({ left, top, width: W, height: H, show: true, borderColor: '#000', borderWidth: 2, backgroundColor: 'transparent', containLabel: false, outerBoundsMode: 'none' })

  const xi = xAxis.length
  xAxis.push(makeAxis(gi, p.x, true, 'bottom', true, p.xName))
  xAxis.push(makeAxis(gi, p.x, false, 'bottom', false))

  const yi = yAxis.length
  yAxis.push(makeAxis(gi, p.y, true, 'left', true, p.col === 0 ? yTitle : ''))
  yAxis.push(makeAxis(gi, p.y, false, 'left', false))
  yAxis.push(makeAxis(gi, p.y, true, 'right', false))
  yAxis.push(makeAxis(gi, p.y, false, 'right', false))

  title.push({
    text: p.tag, left: left + 18, top: top - 32, padding: 0,
    textStyle: { fontSize: 25, fontWeight: 'bold', fontFamily: FONT, color: '#000' }
  })

  p.lines.forEach(([name, data]) => {
    series.push({
      name,
      type: 'line',
      xAxisIndex: xi,
      yAxisIndex: yi,
      data,
      step: p.bars ? false : 'end',
      symbol: 'none',
      showSymbol: false,
      connectNulls: false,
      clip: true,
      silent: true,
      lineStyle: { color: COLORS[name], width: p.bars ? 3 : 2.2 },
      itemStyle: { color: COLORS[name] },
      emphasis: { disabled: true }
    })
  })
})

const legendItem = (name, right, top) => ({
  data: [{ name, icon: 'rect' }],
  right, top,
  orient: 'horizontal',
  align: 'right',
  padding: 0,
  itemWidth: 65,
  itemHeight: 2,
  selectedMode: false,
  textStyle: { fontSize: 23, fontFamily: FONT, color: '#000', padding: [0, 9, 0, 0] }
})

const legend = [
  legendItem('HWSD', 187, 497),
  legendItem('IGBP-DIS', 187, 533),
  legendItem('HWSD', 86, 1269),
  legendItem('IGBP-DIS', 86, 1292),
  legendItem('NCSCD', 86, 1315)
]

const chart = echarts.init(document.getElementById('chart'), null, { renderer: 'canvas' })
chart.setOption({
  backgroundColor: '#fff',
  animation: false,
  title,
  legend,
  grid,
  xAxis,
  yAxis,
  series
})
</script>
</body>
</html>
